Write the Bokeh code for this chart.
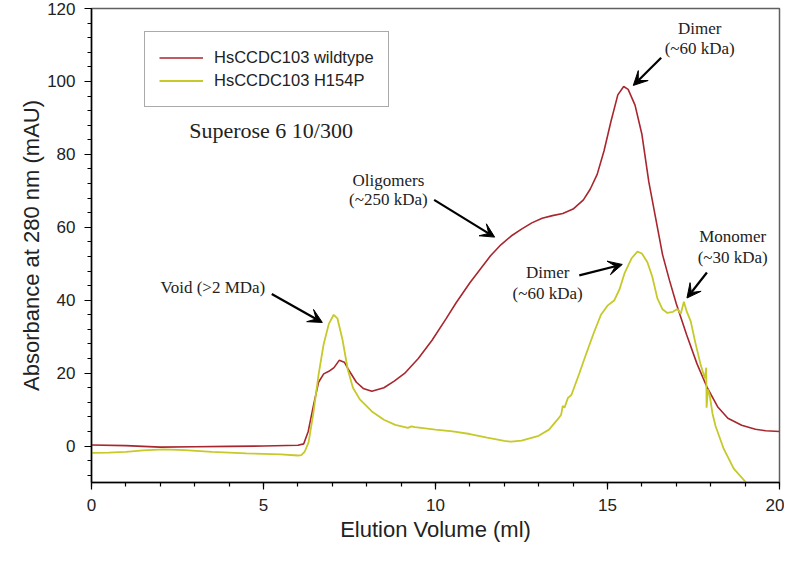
from bokeh.plotting import figure
from bokeh.models import FixedTicker, Label, Arrow, VeeHead, Legend, LegendItem
from bokeh.embed import file_html
from bokeh.resources import INLINE

# ---- data ----
wt_x = [0, 1, 2, 3, 4, 5, 6, 6.17, 6.3, 6.45, 6.6, 6.75, 6.9, 7.05, 7.2, 7.35, 7.5, 7.7,
        7.9, 8.15, 8.5, 8.8, 9.1, 9.5, 9.9, 10.3, 10.6, 11.0, 11.3, 11.6, 11.9, 12.2, 12.5,
        12.8, 13.1, 13.4, 13.7, 14.0, 14.3, 14.5, 14.7, 14.9, 15.1, 15.3, 15.47, 15.6, 15.8,
        16.0, 16.2, 16.4, 16.6, 16.8, 17.0, 17.3, 17.6, 17.9, 18.2, 18.5, 18.9, 19.3, 19.6, 20]
wt_y = [0.3, 0.1, -0.3, -0.2, -0.1, 0.0, 0.2, 0.6, 4, 11, 17.5, 19.8, 20.5, 21.5, 23.5, 23,
        20.5, 17.5, 15.8, 15.0, 16, 17.8, 19.9, 24, 29, 34.8, 39.3, 44.8, 48.5, 52.2, 55.2,
        57.6, 59.5, 61.2, 62.5, 63.2, 63.8, 65, 67.5, 70.5, 74.5, 81, 89, 96.3, 98.6, 97.8,
        93.5, 85.5, 72.5, 62.5, 52.5, 45.5, 39, 30.5, 22.6, 16, 10.8, 7.6, 5.7, 4.6, 4.2, 4.0]

mut_x = [0, 0.5, 1.0, 1.5, 2.1, 2.7, 3.5, 4.5, 5.5, 6.0, 6.1, 6.2, 6.31, 6.45, 6.6, 6.75,
         6.9, 7.04, 7.15, 7.3, 7.45, 7.6, 7.8, 8.15, 8.5, 8.83, 9.2, 9.3, 9.4, 10.0, 10.5,
         11.0, 11.5, 12.0, 12.2, 12.5, 13.0, 13.3, 13.55, 13.65, 13.7, 13.75, 13.85, 13.95,
         14.18, 14.35, 14.6, 14.81, 15.0, 15.2, 15.35, 15.5, 15.7, 15.87, 16.0, 16.16, 16.3,
         16.45, 16.6, 16.74, 16.9, 17.03, 17.13, 17.22, 17.3, 17.42, 17.55, 17.7, 17.83,
         17.87, 17.88, 17.92, 17.97, 18.05, 18.14, 18.38, 18.67, 19.03]
mut_y = [-1.9, -1.8, -1.6, -1.2, -0.9, -1.1, -1.6, -2.0, -2.3, -2.6, -2.5, -1.5, 1, 9, 19.5,
         28, 33.5, 36, 35, 29, 21, 16, 12.8, 9.5, 7.2, 5.8, 5.0, 5.4, 5.2, 4.5, 4.0, 3.3,
         2.3, 1.4, 1.2, 1.5, 2.8, 4.5, 7.3, 8.5, 11, 10.5, 13.2, 14, 19.9, 24.5, 31, 36,
         38.5, 40, 43, 47.5, 51.5, 53.3, 52.8, 50.4, 46.5, 40.5, 37.5, 36.5, 36.8, 37.6,
         36.3, 39.6, 37, 34.2, 28.5, 22.6, 18.5, 21.5, 10.5, 15.5, 14, 9, 5.5, -0.8, -6.2, -10]

series_names = ["HsCCDC103 wildtype", "HsCCDC103 H154P"]
x_major = [0, 5, 10, 15, 20]
x_minor = list(range(0, 21))
y_major = [0, 20, 40, 60, 80, 100, 120]
y_minor = list(range(-8, 121, 4))

RED = "#a8262e"
YEL = "#c6c92a"

p = figure(frame_width=688, frame_height=474, x_range=(0, 20), y_range=(-10, 120),
           output_backend="svg", toolbar_location=None,
           min_border_left=91, min_border_right=5, min_border_top=8, min_border_bottom=64,
           background_fill_color="white", border_fill_color="white")

p.xgrid.visible = False
p.ygrid.visible = False
p.outline_line_color = "#606060"
p.outline_line_width = 1.5

r1 = p.line(wt_x, wt_y, line_color=RED, line_width=1.6)
r2 = p.line(mut_x, mut_y, line_color=YEL, line_width=1.8)

for ax in (p.xaxis[0], p.yaxis[0]):
    ax.axis_line_color = "black"
    ax.axis_line_width = 1.5
    ax.major_tick_line_color = "black"
    ax.minor_tick_line_color = "black"
    ax.major_tick_line_width = 1.2
    ax.minor_tick_line_width = 1.2
    ax.major_tick_in = 0
    ax.major_tick_out = 7
    ax.minor_tick_in = 0
    ax.minor_tick_out = 4
    ax.major_label_text_font = "Liberation Sans"
    ax.major_label_text_font_size = "17px"
    ax.major_label_text_color = "#222222"
    ax.axis_label_text_font = "Liberation Sans"
    ax.axis_label_text_font_size = "22px"
    ax.axis_label_text_font_style = "normal"
    ax.axis_label_text_color = "#222222"

p.xaxis.ticker = FixedTicker(ticks=x_major, minor_ticks=x_minor)
p.yaxis.ticker = FixedTicker(ticks=y_major, minor_ticks=y_minor)
p.xaxis.axis_label = "Elution Volume (ml)"
p.yaxis.axis_label = "Absorbance at 280 nm (mAU)"
p.xaxis.major_label_standoff = 9
p.yaxis.major_label_standoff = 9
p.xaxis.axis_label_standoff = 3
p.yaxis.axis_label_standoff = 0

legend = Legend(items=[LegendItem(label=series_names[0], renderers=[r1]),
                       LegendItem(label=series_names[1], renderers=[r2])],
                location=(53, 375))
legend.border_line_color = "#555555"
legend.border_line_width = 1.2
legend.label_text_font = "Liberation Sans"
legend.label_text_font_size = "16.5px"
legend.label_text_color = "#222222"
legend.glyph_width = 44
legend.glyph_height = 23
legend.label_height = 23
legend.label_standoff = 11
legend.padding = 14
legend.spacing = 0
legend.margin = 0
legend.background_fill_alpha = 1
p.add_layout(legend)

SERIF = "Liberation Serif"
p.add_layout(Label(x=2.84, y=86.6, text="Superose 6 10/300", text_font=SERIF,
                   text_font_size="22px", text_baseline="middle", text_align="left",
                   text_color="#222222"))

notes = [
    ("Dimer", 17.68, 114.6), ("(~60 kDa)", 17.68, 109.0),
    ("Oligomers", 8.63, 72.9), ("(~250 kDa)", 8.63, 67.5),
    ("Void (>2 MDa)", 3.53, 43.6),
    ("Dimer", 13.26, 47.6), ("(~60 kDa)", 13.26, 41.9),
    ("Monomer", 18.64, 57.5), ("(~30 kDa)", 18.64, 51.6),
]
for t, x, y in notes:
    p.add_layout(Label(x=x, y=y, text=t, text_font=SERIF, text_font_size="17px",
                       text_align="center", text_baseline="middle", text_color="#222222"))

arrows = [
    (16.56, 106.5, 15.75, 98.9),
    (9.96, 67.5, 11.72, 57.3),
    (5.24, 41.7, 6.71, 33.9),
    (14.18, 46.8, 15.43, 49.8),
    (17.89, 47.6, 17.31, 40.6),
]
for xs, ys, xe, ye in arrows:
    p.add_layout(Arrow(end=VeeHead(size=14, fill_color="black", line_color="black",
                                   line_width=1),
                       x_start=xs, y_start=ys, x_end=xe, y_end=ye,
                       line_color="black", line_width=2.2))

open("out.html", "w").write(file_html(p, INLINE))
